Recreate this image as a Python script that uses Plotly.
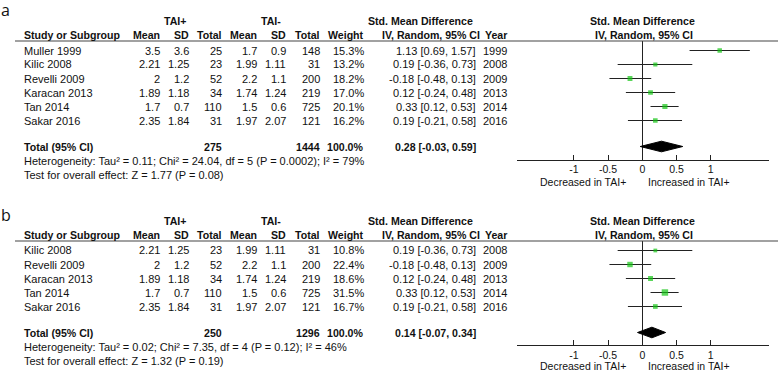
import plotly.graph_objects as go

W, H = 778, 372

# ---------------- Panel a data ----------------
a_study = ["Muller 1999", "Kilic 2008", "Revelli 2009", "Karacan 2013", "Tan 2014", "Sakar 2016"]
a_mean1 = [3.5, 2.21, 2, 1.89, 1.7, 2.35]
a_sd1 = [3.6, 1.25, 1.2, 1.18, 0.7, 1.84]
a_n1 = [25, 23, 52, 34, 110, 31]
a_mean2 = [1.7, 1.99, 2.2, 1.74, 1.5, 1.97]
a_sd2 = [0.9, 1.11, 1.1, 1.24, 0.6, 2.07]
a_n2 = [148, 31, 200, 219, 725, 121]
a_weight = [15.3, 13.2, 18.2, 17.0, 20.1, 16.2]
a_smd = [1.13, 0.19, -0.18, 0.12, 0.33, 0.19]
a_lo = [0.69, -0.36, -0.48, -0.24, 0.12, -0.21]
a_hi = [1.57, 0.73, 0.13, 0.48, 0.53, 0.58]
a_year = [1999, 2008, 2009, 2013, 2014, 2016]
a_tot_n = [275, 1444]
a_tot_est = [0.28, -0.03, 0.59]
a_het = ["0.11", "24.04", "5", "0.0002", "79"]
a_z = ["1.77", "0.08"]

# ---------------- Panel b data ----------------
b_study = ["Kilic 2008", "Revelli 2009", "Karacan 2013", "Tan 2014", "Sakar 2016"]
b_mean1 = [2.21, 2, 1.89, 1.7, 2.35]
b_sd1 = [1.25, 1.2, 1.18, 0.7, 1.84]
b_n1 = [23, 52, 34, 110, 31]
b_mean2 = [1.99, 2.2, 1.74, 1.5, 1.97]
b_sd2 = [1.11, 1.1, 1.24, 0.6, 2.07]
b_n2 = [31, 200, 219, 725, 121]
b_weight = [10.8, 22.4, 18.6, 31.5, 16.7]
b_smd = [0.19, -0.18, 0.12, 0.33, 0.19]
b_lo = [-0.36, -0.48, -0.24, 0.12, -0.21]
b_hi = [0.73, 0.13, 0.48, 0.53, 0.58]
b_year = [2008, 2009, 2013, 2014, 2016]
b_tot_n = [250, 1296]
b_tot_est = [0.14, -0.07, 0.34]
b_het = ["0.02", "7.35", "4", "0.12", "46"]
b_z = ["1.32", "0.19"]

tick_vals = [-1, -0.5, 0, 0.5, 1]
tick_text = ["-1", "-0.5", "0", "0.5", "1"]

FONT = "Arial, Liberation Sans, sans-serif"
FS = 11
FB = 10.6
FAX = 10.5
TXT = "#111111"
GREEN = "#14c414"
LINE = "#222222"

fig = go.Figure()
annotations = []
shapes = []


def px(x):
    return x / W


def py(y):
    return 1 - y / H


def txt(x, y, s, anchor="left", bold=False, xref="paper", size=None):
    annotations.append(dict(
        x=px(x) if xref == "paper" else x, y=py(y), xref=xref, yref="paper",
        text=f"<b>{s}</b>" if bold else s, showarrow=False,
        xanchor=anchor, yanchor="middle", borderpad=0,
        font=dict(family=FONT, size=size or (FB if bold else FS), color=TXT)))


def g(v):
    return f"{v:g}"


# column right edges (pixels)
C_STUDY = 22.5
C_M1, C_SD1, C_N1 = 161, 190, 222.5
C_M2, C_SD2, C_N2 = 258, 287, 321
C_W = 364.5
C_CI = 477
C_CIH = 481
C_YEAR = 508

ROW = 14.0


def panel(k, L, study, m1, s1, n1, m2, s2, n2, w, smd, lo, hi, yr, tot_n, tot_est, het, z, sq,
          ax_off, lab_off):
    xa = "x" if k == 1 else f"x{k}"
    ya = "y" if k == 1 else f"y{k}"
    n = len(study)
    r0 = L + 9.5
    tot_px = r0 + ROW * (n - 1) + 26
    axis_px = tot_px + ax_off

    # headers
    txt(175, L - 20, "TAI+", "center", True)
    txt(271, L - 20, "TAI-", "center", True)
    txt(420, L - 20, "Std. Mean Difference", "center", True)
    txt(642, L - 20, "Std. Mean Difference", "center", True)
    txt(C_STUDY, L - 6, "Study or Subgroup", "left", True)
    for xx, s in [(C_M1, "Mean"), (C_SD1, "SD"), (C_N1, "Total"), (C_M2, "Mean"),
                  (C_SD2, "SD"), (C_N2, "Total"), (C_W, "Weight"),
                  (C_CIH, "IV, Random, 95% CI"), (C_YEAR, "Year")]:
        txt(xx, L - 6, s, "right", True)
    txt(644, L - 6, "IV, Random, 95% CI", "center", True)
    shapes.append(dict(type="line", xref="paper", yref="paper", x0=px(15), x1=1,
                       y0=py(L), y1=py(L), line=dict(color="#444444", width=1.2)))

    # rows
    for i in range(n):
        y = r0 + ROW * i
        txt(C_STUDY, y, study[i])
        txt(C_M1, y, g(m1[i]), "right")
        txt(C_SD1, y, g(s1[i]), "right")
        txt(C_N1, y, str(n1[i]), "right")
        txt(C_M2, y, g(m2[i]), "right")
        txt(C_SD2, y, g(s2[i]), "right")
        txt(C_N2, y, str(n2[i]), "right")
        txt(C_W, y, f"{w[i]:.1f}%", "right")
        txt(C_CI, y, f"{smd[i]:.2f} [{lo[i]:.2f}, {hi[i]:.2f}]", "right")
        txt(C_YEAR, y, str(yr[i]), "right")

    # total row
    txt(C_STUDY, tot_px, "Total (95% CI)", "left", True)
    txt(C_N1, tot_px, str(tot_n[0]), "right", True)
    txt(C_N2, tot_px, str(tot_n[1]), "right", True)
    txt(C_W, tot_px, f"{sum(w):.1f}%", "right", True)
    txt(C_CI, tot_px, f"{tot_est[0]:.2f} [{tot_est[1]:.2f}, {tot_est[2]:.2f}]", "right", True)
    txt(C_STUDY, tot_px + 14.5,
        f"Heterogeneity: Tau² = {het[0]}; Chi² = {het[1]}, df = {het[2]} (P = {het[3]}); I² = {het[4]}%")
    txt(C_STUDY, tot_px + 28.5, f"Test for overall effect: Z = {z[0]} (P = {z[1]})")

    # axis labels under forest
    txt(-0.22, axis_px + lab_off, "Decreased in TAI+", "right", xref=xa, size=FAX)
    txt(0.07, axis_px + lab_off, "Increased in TAI+", "left", xref=xa, size=FAX)

    # forest plot traces
    yrows = list(range(n))
    fig.add_trace(go.Scatter(
        x=smd, y=yrows, mode="markers", xaxis=xa, yaxis=ya,
        marker=dict(symbol="square", color=GREEN, size=[sq * v ** 0.5 for v in w], line=dict(width=0)),
        error_x=dict(type="data", symmetric=False,
                     array=[h - s for h, s in zip(hi, smd)],
                     arrayminus=[s - l for s, l in zip(smd, lo)],
                     color=LINE, thickness=1, width=0),
        showlegend=False, hoverinfo="skip"))
    tv = (tot_px - r0) / ROW
    hh = 0.38
    fig.add_trace(go.Scatter(
        x=[tot_est[1], tot_est[0], tot_est[2], tot_est[0], tot_est[1]],
        y=[tv, tv - hh, tv, tv + hh, tv], mode="lines", fill="toself",
        fillcolor="black", line=dict(color="black", width=1),
        xaxis=xa, yaxis=ya, showlegend=False, hoverinfo="skip"))

    dom_y = [py(axis_px), py(L)]
    xkey = "xaxis" if k == 1 else f"xaxis{k}"
    ykey = "yaxis" if k == 1 else f"yaxis{k}"
    fig.layout[xkey] = dict(
        domain=[px(517), px(769)], range=[-1.83, 1.85], anchor=ya,
        showline=True, linecolor=LINE, linewidth=1, ticks="inside", ticklen=5,
        tickcolor=LINE, tickwidth=1, tickvals=tick_vals, ticktext=tick_text,
        showgrid=False, zeroline=True, zerolinecolor=LINE, zerolinewidth=1,
        tickfont=dict(family=FONT, size=FAX, color=TXT), fixedrange=True)
    fig.layout[ykey] = dict(
        domain=dom_y, range=[(axis_px - r0) / ROW, (L - r0) / ROW], anchor=xa,
        visible=False, fixedrange=True)


panel(1, 41, a_study, a_mean1, a_sd1, a_n1, a_mean2, a_sd2, a_n2, a_weight,
      a_smd, a_lo, a_hi, a_year, a_tot_n, a_tot_est, a_het, a_z, 1.15, 13, 22.5)
panel(2, 241, b_study, b_mean1, b_sd1, b_n1, b_mean2, b_sd2, b_n2, b_weight,
      b_smd, b_lo, b_hi, b_year, b_tot_n, b_tot_est, b_het, b_z, 1.15, 12.5, 21)

# panel letters
for lab, yy in [("a", 10.5), ("b", 215)]:
    annotations.append(dict(x=0, y=py(yy), xref="paper", yref="paper", text=lab, showarrow=False,
                            xanchor="left", yanchor="middle", borderpad=0,
                            font=dict(family="Open Sans, sans-serif", size=16, color=TXT)))

fig.update_layout(
    width=W, height=H, margin=dict(l=0, r=0, t=0, b=0),
    paper_bgcolor="white", plot_bgcolor="white",
    annotations=annotations, shapes=shapes, showlegend=False,
    font=dict(family=FONT, size=FS, color=TXT))

fig.write_html("out.html", config={"displayModeBar": False},
               post_script="document.body.style.margin='0';document.body.style.overflow='hidden';")
